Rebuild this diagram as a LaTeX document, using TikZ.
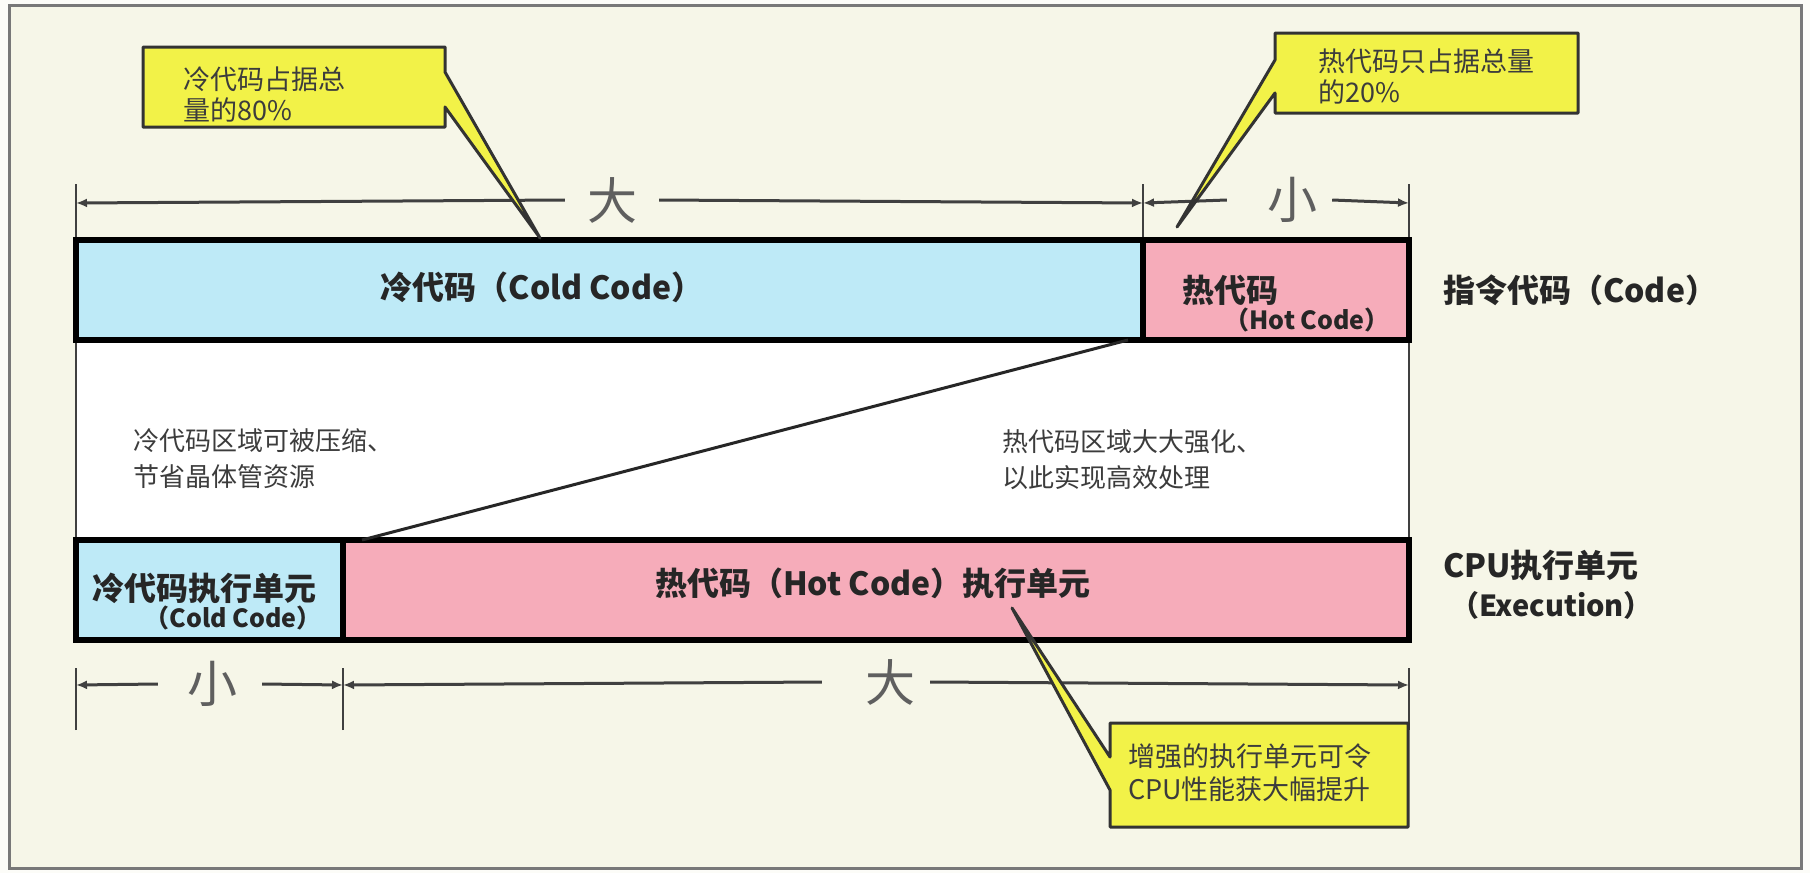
\documentclass[tikz,border=0pt]{standalone}
\usepackage{fontspec}
\setmainfont{Noto Sans CJK SC}
\usetikzlibrary{arrows.meta}
\definecolor{pagewhite}{RGB}{252,252,248}
\definecolor{ivory}{RGB}{246,246,232}
\definecolor{coldblue}{RGB}{190,234,247}
\definecolor{hotpink}{RGB}{246,172,186}
\definecolor{calloutyellow}{RGB}{242,242,72}
\definecolor{inkgray}{RGB}{60,60,60}
\definecolor{dimgray}{RGB}{95,95,95}
\definecolor{framegray}{RGB}{120,120,120}
\begin{document}
\begin{tikzpicture}[x=1pt,y=-1pt,
  bar/.style={draw=black,line width=6pt,minimum height=100pt,inner sep=0pt,outer sep=0pt,anchor=north west},
  barlabel/.style={font=\fontsize{32}{36}\selectfont\bfseries,text=black!85,inner sep=0pt},
  smalllabel/.style={font=\fontsize{25}{28}\selectfont\bfseries,text=black!85,inner sep=0pt},
  note/.style={font=\fontsize{26}{36}\selectfont,text=inkgray,align=left,inner sep=0pt,anchor=west},
  calltext/.style={font=\fontsize{27}{31}\selectfont,text=inkgray,align=left,inner sep=0pt,anchor=west},
  callout/.style={fill=calloutyellow,draw=black!80,line width=3pt,line join=round},
  dimline/.style={draw=black!75,line width=3pt,>={Latex[length=11pt,width=9pt]}},
  dimchar/.style={font=\fontsize{50}{50}\selectfont,text=dimgray,inner sep=0pt},
  edgeline/.style={draw=black!75,line width=2.5pt},
]
\useasboundingbox (0,0) rectangle (1810,873);
\fill[pagewhite] (0,0) rectangle (1810,873);
\filldraw[fill=ivory,draw=framegray,line width=3pt] (9,5) rectangle (1801,868);

% white middle region
\filldraw[fill=white,draw=none] (76,340) rectangle (1409,540);
\draw[edgeline] (76,340) -- (76,540);
\draw[edgeline] (1409,340) -- (1409,540);

% tick coordinates
\coordinate (tl) at (76,203);
\coordinate (tm) at (1143,203);
\coordinate (tr) at (1409,203);
\coordinate (bl) at (76,685);
\coordinate (bm) at (343,685);
\coordinate (br) at (1409,685);

% ticks
\foreach \c in {tl,tm,tr}{\draw[edgeline] ([yshift=-43pt]\c) -- ([yshift=19pt]\c);}
\foreach \c in {bl,bm,br}{\draw[edgeline] ([yshift=-45pt]\c) -- ([yshift=17pt]\c);}

% bars
\node[bar,fill=coldblue,minimum width=1067pt] (codecold) at (76,240) {};
\node[bar,fill=hotpink,minimum width=266pt] (codehot) at (1143,240) {};
\node[bar,fill=coldblue,minimum width=267pt] (execcold) at (76,540) {};
\node[bar,fill=hotpink,minimum width=1066pt] (exechot) at (343,540) {};

% diagonal connector
\draw[line width=3pt,black!85] ([xshift=-15pt]codecold.south east) -- ([xshift=19pt]execcold.north east);

% dimension labels
\node[dimchar] (dbig1) at (612,200) {大};
\node[dimchar] (dsmall1) at (1292,200) {小};
\node[dimchar] (dsmall2) at (212,684) {小};
\node[dimchar] (dbig2) at (890,682) {大};

% dimension lines
\draw[dimline,<-] (tl) -- ([xshift=-22pt]dbig1.west);
\draw[dimline,->] ([xshift=22pt]dbig1.east) -- (tm);
\draw[dimline,<-] (tm) -- ([xshift=-40pt]dsmall1.west);
\draw[dimline,->] ([xshift=15pt]dsmall1.east) -- (tr);
\draw[dimline,<-] (bl) -- ([xshift=-29pt]dsmall2.west);
\draw[dimline,->] ([xshift=25pt]dsmall2.east) -- (bm);
\draw[dimline,<-] (bm) -- ([xshift=-43pt]dbig2.west);
\draw[dimline,->] ([xshift=15pt]dbig2.east) -- (br);

% bar labels
\node[barlabel] (tcold) at (542,287) {冷代码（Cold Code）};
\node[barlabel,anchor=west] (thot) at (1182,290) {热代码};
\node[smalllabel,anchor=east] (thoten) at (1390,320) {（Hot Code）};
\node[barlabel] (ecold) at (204,588) {冷代码执行单元};
\node[smalllabel,anchor=east] (ecolden) at (322,618) {（Cold Code）};
\node[barlabel] (ehot) at (873,583) {热代码（Hot Code）执行单元};

% right-side labels
\node[barlabel,anchor=west] (lcode) at (1443,290) {指令代码（Code）};
\node[barlabel,anchor=west] (lexec) at (1443,565) {CPU执行单元};
\node[barlabel,font=\fontsize{29}{32}\selectfont\bfseries,anchor=west] (lexecen) at (1450,605) {（Execution）};

% notes in white region
\node[note] (nleft) at (133,459) {冷代码区域可被压缩、\\节省晶体管资源};
\node[note] (nright) at (1002,460) {热代码区域大大强化、\\以此实现高效处理};

% callout 1
\coordinate (c1tip) at (540,238);
\path[callout] (143,47) -- (445,47) -- (445,72) -- (c1tip) -- (445,107) -- (445,127) -- (143,127) -- cycle;
\node[calltext] (c1) at (183,95) {冷代码占据总\\量的80\%};

% callout 2
\coordinate (c2tip) at (1177,227);
\path[callout] (1275,33) -- (1578,33) -- (1578,113) -- (1275,113) -- (1275,93) -- (c2tip) -- (1275,60) -- cycle;
\node[calltext] (c2) at (1318,77) {热代码只占据总量\\的20\%};

% callout 3
\coordinate (c3tip) at (1012,608);
\path[callout] (1110,723) -- (1408,723) -- (1408,827) -- (1110,827) -- (1110,790) -- (c3tip) -- (1110,757) -- cycle;
\node[calltext,font=\fontsize{27}{33}\selectfont] (c3) at (1128,773) {增强的执行单元可令\\CPU性能获大幅提升};
\end{tikzpicture}
\end{document}
